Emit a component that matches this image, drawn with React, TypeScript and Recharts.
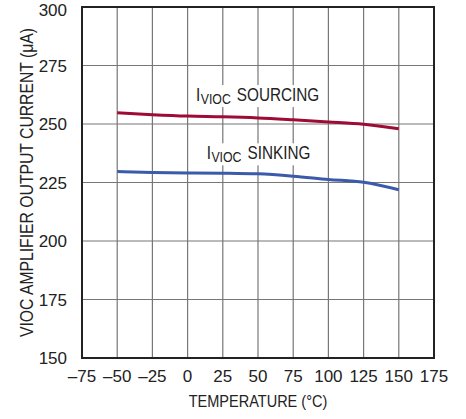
import React from 'react';
import { LineChart, Line, XAxis, YAxis, CartesianGrid, ReferenceArea, ReferenceDot } from 'recharts';

const temperatures = [-50, -25, 0, 25, 50, 75, 100, 125, 150];
const sourcing = [254.8, 254.0, 253.4, 253.1, 252.6, 251.8, 250.9, 249.9, 248.0];
const sinking = [229.7, 229.3, 229.1, 229.0, 228.7, 227.7, 226.3, 225.1, 221.9];
const xTicks = [-75, -50, -25, 0, 25, 50, 75, 100, 125, 150, 175];
const yTicks = [150, 175, 200, 225, 250, 275, 300];
const labelSourcing = { x: 6, y: 259.8, text: 'SOURCING' };
const labelSinking = { x: 13.6, y: 234.9, text: 'SINKING' };
const xTitle = 'TEMPERATURE (\u00B0C)';
const yTitle = 'VIOC AMPLIFIER OUTPUT CURRENT (\u03BCA)';

const data = temperatures.map((t, i) => ({ t, sourcing: sourcing[i], sinking: sinking[i] }));

const FONT = '"Liberation Sans", Arial, sans-serif';
const INK = '#222';
const SQUEEZE = 0.85;

const fmt = (v: number) => (v < 0 ? '\u2013' + Math.abs(v) : String(v));

const CurveLabel = (props: any) => {
  const { viewBox, text } = props;
  const x = viewBox.x;
  const y = viewBox.y;
  const w = text === 'SOURCING' ? 148 : 124;
  return (
    <g transform={`translate(${x} ${y}) scale(${SQUEEZE} 1)`}>
      <rect x={-4} y={-16} width={w} height={22} fill="#fff" />
      <text x={0} y={0} fontFamily={FONT} fontSize={18} fill={INK}>I</text>
      <text x={5.5} y={3} fontFamily={FONT} fontSize={14.5} fill={INK}>VIOC</text>
      <text x={48} y={0} fontFamily={FONT} fontSize={18} fill={INK}>{text}</text>
    </g>
  );
};

const YTitle = (props: any) => {
  const vb = props.viewBox;
  const cx = vb.x + 27;
  const cy = vb.y + vb.height / 2;
  return (
    <g transform={`translate(${cx} ${cy}) rotate(-90) scale(0.9 1)`}>
      <text x={0} y={0} textAnchor="middle" dominantBaseline="central" fontFamily={FONT} fontSize={17.5} fill={INK}>
        {yTitle}
      </text>
    </g>
  );
};

const XTitle = (props: any) => {
  const vb = props.viewBox;
  const cx = vb.x + vb.width / 2;
  const y = vb.y + 49;
  return (
    <g transform={`translate(${cx} ${y}) scale(0.88 1)`}>
      <text x={0} y={0} textAnchor="middle" fontFamily={FONT} fontSize={16.5} fill={INK}>
        {xTitle}
      </text>
    </g>
  );
};

export default function App() {
  return (
    <div style={{ position: 'absolute', left: 0, top: 0, width: 466, height: 419, background: '#fff' }}>
      <LineChart width={466} height={419} data={data} margin={{ top: 7, right: 32, left: 0, bottom: 0 }}>
        <CartesianGrid stroke="#777" strokeWidth={1.2} horizontal vertical />
        <XAxis
          dataKey="t"
          type="number"
          domain={[-75, 175]}
          ticks={xTicks}
          tickFormatter={fmt}
          axisLine={false}
          tickLine={false}
          tickMargin={6}
          height={61}
          tick={{ fill: INK, fontSize: 17, fontFamily: FONT }}
          label={<XTitle />}
        />
        <YAxis
          type="number"
          domain={[150, 300]}
          ticks={yTicks}
          axisLine={false}
          tickLine={false}
          tickMargin={9}
          width={82}
          tick={{ fill: INK, fontSize: 17, fontFamily: FONT }}
          label={<YTitle />}
        />
        <ReferenceArea x1={-75} x2={175} y1={150} y2={300} fill="none" stroke={INK} strokeWidth={2} fillOpacity={0} ifOverflow="visible" />
        <ReferenceDot x={labelSourcing.x} y={labelSourcing.y} r={0} label={<CurveLabel text={labelSourcing.text} />} />
        <ReferenceDot x={labelSinking.x} y={labelSinking.y} r={0} label={<CurveLabel text={labelSinking.text} />} />
        <Line dataKey="sourcing" stroke="#9e0b35" strokeWidth={3} dot={false} type="monotone" isAnimationActive={false} />
        <Line dataKey="sinking" stroke="#3b5aaa" strokeWidth={3} dot={false} type="monotone" isAnimationActive={false} />
      </LineChart>
    </div>
  );
}
